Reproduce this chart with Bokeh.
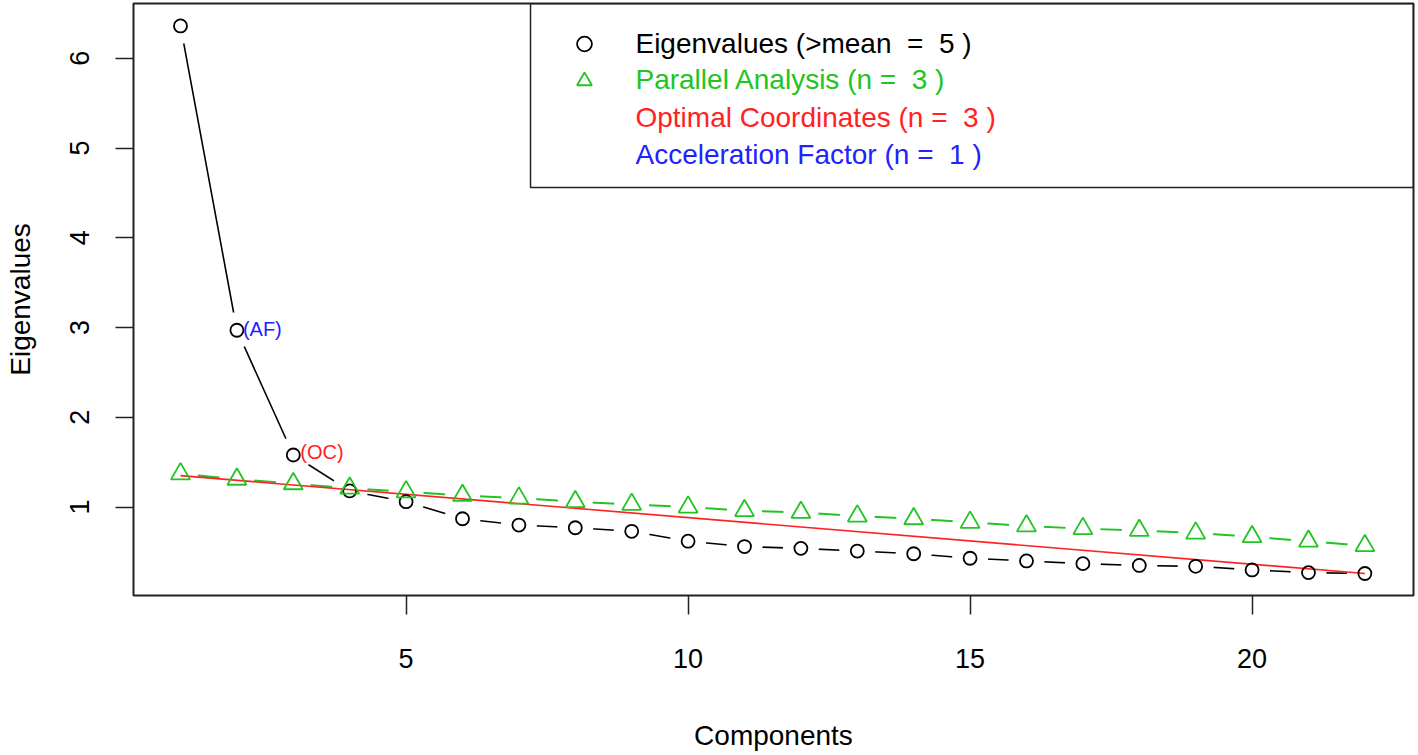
from bokeh.plotting import figure
from bokeh.models import (Range1d, FixedTicker, Legend, LegendItem, BoxAnnotation, Label)
from bokeh.embed import file_html
from bokeh.resources import INLINE

# ---- data ----
components = list(range(1, 23))
eigenvalues = [6.36, 2.97, 1.58, 1.18, 1.06, 0.87, 0.80, 0.77, 0.73, 0.62, 0.56,
               0.54, 0.51, 0.48, 0.43, 0.40, 0.37, 0.35, 0.34, 0.30, 0.27, 0.26]
parallel = [1.37, 1.31, 1.26, 1.21, 1.17, 1.13, 1.10, 1.06, 1.03, 1.00, 0.96,
            0.94, 0.90, 0.87, 0.83, 0.79, 0.76, 0.74, 0.71, 0.67, 0.62, 0.57]
oc_line_x = [1, 22]
oc_line_y = [1.35, 0.26]
n_mean = 5
n_pa = 3
n_oc = 3
n_af = 1
af_component = 2
oc_component = 3
NB = "\u00a0"
legend_labels = [
    f"Eigenvalues (>mean {NB}= {NB}{n_mean} )",
    f"Parallel Analysis (n = {NB}{n_pa} )",
    f"Optimal Coordinates (n = {NB}{n_oc} )",
    f"Acceleration Factor (n = {NB}{n_af} )",
]
x_ticks = [5, 10, 15, 20]
y_ticks = [1, 2, 3, 4, 5, 6]

FONT = "Liberation Sans"
GREEN = "#22C422"
RED = "#FF2222"
BLUE = "#2222FF"

p = figure(width=1416, height=753,
           x_range=Range1d(0.1667, 22.862), y_range=Range1d(0.015, 6.610),
           output_backend="svg", toolbar_location=None,
           min_border_left=133, min_border_right=3,
           min_border_top=3, min_border_bottom=152)
p.grid.visible = False
p.outline_line_color = "#222222"
p.outline_line_width = 2

# connecting lines (type "b" in R: gaps around the points)
p.line(components, eigenvalues, line_color="black", line_width=1.6)
p.line(components, parallel, line_color=GREEN, line_width=2)
p.scatter(components, eigenvalues, size=36, fill_color="white", line_color=None)
p.scatter(components, parallel, size=35, fill_color="white", line_color=None)
# optimal coordinates line
p.line(oc_line_x, oc_line_y, line_color=RED, line_width=1.6)
# markers
r_circ = p.scatter(components, eigenvalues, marker="circle", size=13,
                   fill_color=None, line_color="black", line_width=1.8)
r_tri = p.scatter(components, parallel, marker="triangle", size=19,
                  fill_color=None, line_color=GREEN, line_width=1.8)

# (AF) and (OC) annotations
p.text(x=[af_component], y=[eigenvalues[af_component - 1]], text=["(AF)"],
       x_offset=6, y_offset=-1, text_align="left", text_baseline="middle",
       text_font_size="20px", text_color=BLUE, text_font={"value": FONT})
p.text(x=[oc_component], y=[eigenvalues[oc_component - 1]], text=["(OC)"],
       x_offset=7, y_offset=-3, text_align="left", text_baseline="middle",
       text_font_size="20px", text_color=RED, text_font={"value": FONT})

# axes
p.xaxis.ticker = FixedTicker(ticks=x_ticks)
p.yaxis.ticker = FixedTicker(ticks=y_ticks)
for ax in (p.xaxis[0], p.yaxis[0]):
    ax.axis_line_color = None
    ax.major_tick_in = 0
    ax.minor_tick_line_color = None
    ax.major_tick_line_color = "#222222"
    ax.major_tick_line_width = 1.5
    ax.major_label_text_font = FONT
    ax.major_label_text_font_size = "27px"
    ax.major_label_text_color = "black"
    ax.axis_label_text_font = FONT
    ax.axis_label_text_font_size = "28px"
    ax.axis_label_text_font_style = "normal"
    ax.axis_label_text_color = "black"
p.xaxis.major_tick_out = 19
p.yaxis.major_tick_out = 18
p.xaxis.axis_label = "Components"
p.yaxis.axis_label = "Eigenvalues"
p.xaxis.major_label_standoff = 34
p.yaxis.major_label_standoff = 26
p.yaxis.major_label_orientation = "vertical"
p.xaxis.axis_label_standoff = 49
p.yaxis.axis_label_standoff = 32

# legend frame
p.add_layout(BoxAnnotation(left=7.206, bottom=4.559, fill_color=None, fill_alpha=0,
                           line_color="#222222", line_alpha=1, line_width=1.5))
# legend symbols
leg = Legend(items=[LegendItem(label=" ", renderers=[r_circ]),
                    LegendItem(label=" ", renderers=[r_tri])],
             location=(430, 496), orientation="vertical",
             glyph_width=42, glyph_height=37, label_height=37, label_width=1,
             label_standoff=0, spacing=0, padding=0, margin=0,
             border_line_color=None, background_fill_alpha=0,
             label_text_font_size="1px")
p.add_layout(leg)
# legend texts
legend_colors = ["black", GREEN, RED, BLUE]
legend_y = [6.169, 5.761, 5.342, 4.923]
for lab, col, yy in zip(legend_labels, legend_colors, legend_y):
    p.add_layout(Label(x=9.067, y=yy, text=lab, text_color=col,
                       text_font=FONT, text_font_size="28px",
                       text_baseline="middle", text_align="left"))

open("out.html", "w").write(file_html(p, INLINE))
